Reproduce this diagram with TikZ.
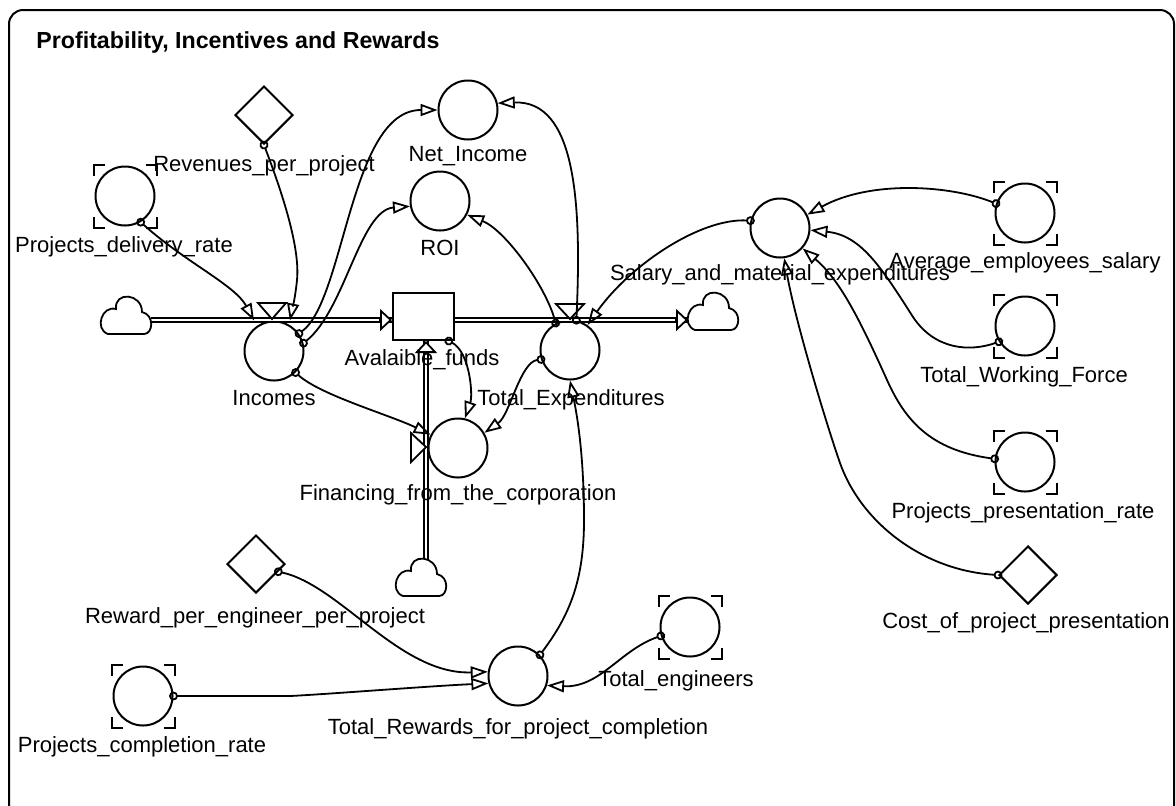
\documentclass[tikz,border=0pt]{standalone}
\usepackage{fontspec}
\setmainfont{Liberation Sans}
\usetikzlibrary{arrows.meta, shapes.geometric}

\tikzset{
  auxvar/.style={circle, draw, line width=1pt, minimum size=29.5pt, inner sep=0pt},
  stockbox/.style={rectangle, draw, line width=1pt, minimum width=30.5pt, minimum height=23.5pt, inner sep=0pt},
  constvar/.style={diamond, draw, line width=1pt, minimum size=29pt, inner sep=0pt},
  lbl/.style={anchor=base, inner sep=0pt, font=\fontsize{11}{13}\selectfont},
  link/.style={line width=.9pt, shorten <=-2.2pt, {Circle[open,length=4.4pt]}-{Triangle[open,length=8.5pt,width=6pt]}},
  pipe/.style={double, line width=.6pt, double distance=1.4pt},
  ptip/.style={line width=.9pt, -{Triangle[length=6pt,width=11pt,fill=white]}},
  valve/.style={line width=.9pt, fill=white},
}

% corner marks of a lookup variable
\newcommand{\lookupmarks}[1]{\draw[line width=1pt, shift={(#1.center)}]
  (-31.5,-20.5) -- (-31.5,-31.5) -- (-20.5,-31.5) (20.5,-31.5) -- (31.5,-31.5) -- (31.5,-20.5)
  (-31.5,20.5) -- (-31.5,31.5) -- (-20.5,31.5) (20.5,31.5) -- (31.5,31.5) -- (31.5,20.5);}
% source / sink cloud
\newcommand{\cloudat}[1]{\draw[line width=.9pt, fill=white, shift={(#1)}]
  (-18,19) -- (18,19) .. controls (27,19) and (29,0) .. (16,-3)
  .. controls (16,-22) and (-12,-24) .. (-10,-6)
  .. controls (-24,-10) and (-32,14) .. (-18,19) -- cycle;}

\begin{document}
\begin{tikzpicture}[x=0.5pt, y=-0.5pt]
    \useasboundingbox (0,0) rectangle (1176,805);
    \draw[line width=1pt, rounded corners=7pt] (9,10) rectangle (1174,840);
    \node[anchor=base west, inner sep=0pt, font=\bfseries\fontsize{11.6}{14}\selectfont] (title) at (36,48) {Profitability, Incentives and Rewards};

    % variables
    \node[constvar] (rev) at (264,115) {};
    \node[auxvar] (pdr) at (125,196) {};
    \node[auxvar] (net) at (468,110) {};
    \node[auxvar] (roi) at (440,201) {};
    \node[auxvar] (inc) at (274,351) {};
    \node[stockbox] (fund) at (423.5,316.5) {};
    \node[auxvar] (texp) at (570,350) {};
    \node[auxvar] (fin) at (458,448) {};
    \node[auxvar] (sal) at (780,228) {};
    \node[auxvar] (aes) at (1025,213) {};
    \node[auxvar] (twf) at (1025,326) {};
    \node[auxvar] (ppr) at (1025,462) {};
    \node[constvar] (cpp) at (1028,575) {};
    \node[constvar] (rpe) at (256,564) {};
    \node[auxvar] (trw) at (518,676) {};
    \node[auxvar] (ten) at (690,627) {};
    \node[auxvar] (pcr) at (143,696) {};
    \lookupmarks{pdr}
    \lookupmarks{aes}
    \lookupmarks{twf}
    \lookupmarks{ppr}
    \lookupmarks{ten}
    \lookupmarks{pcr}

    % flows
    \coordinate (cL) at (126,315);
    \coordinate (cR) at (713,311);
    \coordinate (cB) at (421,577);
    \coordinate (inL) at (151,320);
    \coordinate (outR) at (688,320);
    \coordinate (inB) at (426,559);
    \coordinate (fundL) at (fund.west |- inL);
    \coordinate (fundR) at (fund.east |- inL);
    \coordinate (fundB) at (inB |- fund.south);
    \draw[pipe] (inL) -- (fundL);
    \draw[pipe] (fundR) -- (outR);
    \draw[pipe] (inB) -- (fundB);
    \draw[ptip] ([xshift=-6.5pt]fundL) -- (fundL);
    \draw[ptip] ([xshift=-6.5pt]outR) -- (outR);
    \draw[ptip] ([yshift=-6.5pt]fundB) -- (fundB);
    \cloudat{cL}
    \cloudat{cR}
    \cloudat{cB}
    \draw[valve] (258,303) -- (286,303) -- (272,319) -- cycle;
    \draw[valve] (556,304) -- (584,304) -- (570,319) -- cycle;
    \draw[valve] (411,433) -- (411,462) -- (426,447) -- cycle;

    % links
    \draw[link] (rev.south) .. controls (285,200) and (300,250) .. (297,280) .. controls (295,300) and (292,310) .. ([xshift=8pt]inc.north);
    \draw[link] (pdr.-59) .. controls (185,262) and (235,285) .. ([xshift=-10pt]inc.north);
    \draw[link] (inc.35) .. controls (345,300) and (350,110) .. (net.west);
    \draw[link] (inc.15) .. controls (345,310) and (360,210) .. (roi.190);
    \draw[link] (inc.-45) .. controls (320,395) and (390,415) .. (fin.154);
    \draw[link] (texp.78) .. controls (582,200) and (575,100) .. (net.13);
    \draw[link] (texp.118) .. controls (545,285) and (505,230) .. (roi.-27);
    \draw[link] (sal.166) .. controls (700,218) and (630,265) .. (texp.55);
    \draw[link] (texp.198) .. controls (520,362) and (510,415) .. (fin.30);
    \draw[link] (fund.-44) .. controls (470,352) and (473,395) .. (fin.77);
    \draw[link] (trw.44) .. controls (570,615) and (584,580) .. (584,520) .. controls (584,450) and (576,410) .. (texp.south);
    \draw[link] (rpe.-19) .. controls (340,585) and (400,675) .. (trw.172);
    \draw[link] (pcr.east) -- (290,696) .. controls (330,694) and (430,686) .. (trw.194);
    \draw[link] (ten.197) .. controls (620,650) and (600,688) .. (trw.-18);
    \draw[link] (aes.162) .. controls (950,185) and (870,180) .. (sal.26);
    \draw[link] (twf.211) .. controls (970,352) and (935,350) .. (913,317) .. controls (880,265) and (860,235) .. (sal.-4);
    \draw[link] (ppr.174) .. controls (930,450) and (905,420) .. (887,380) .. controls (860,320) and (840,280) .. (sal.-42);
    \draw[link] (cpp.west) .. controls (920,570) and (860,520) .. (840,463) .. controls (826,423) and (795,320) .. (sal.-82);

    % names
    \node[lbl] (revL) at (264,171) {Revenues\_per\_project};
    \node[lbl] (pdrL) at (124,252) {Projects\_delivery\_rate};
    \node[lbl] (netL) at (468,161) {Net\_Income};
    \node[lbl] (roiL) at (440,255) {ROI};
    \node[lbl] (incL) at (274,405) {Incomes};
    \node[lbl] (fundL) at (422,365) {Avalaible\_funds};
    \node[lbl] (texpL) at (571,405) {Total\_Expenditures};
    \node[lbl] (finL) at (458,500) {Financing\_from\_the\_corporation};
    \node[lbl] (salL) at (780,280) {Salary\_and\_material\_expenditures};
    \node[lbl] (aesL) at (1025,268) {Average\_employees\_salary};
    \node[lbl] (twfL) at (1024,382) {Total\_Working\_Force};
    \node[lbl] (pprL) at (1023,518) {Projects\_presentation\_rate};
    \node[lbl] (cppL) at (1026,628) {Cost\_of\_project\_presentation};
    \node[lbl] (rpeL) at (255,623) {Reward\_per\_engineer\_per\_project};
    \node[lbl] (trwL) at (518,734) {Total\_Rewards\_for\_project\_completion};
    \node[lbl] (tenL) at (676,686) {Total\_engineers};
    \node[lbl] (pcrL) at (142,752) {Projects\_completion\_rate};
\end{tikzpicture}
\end{document}
